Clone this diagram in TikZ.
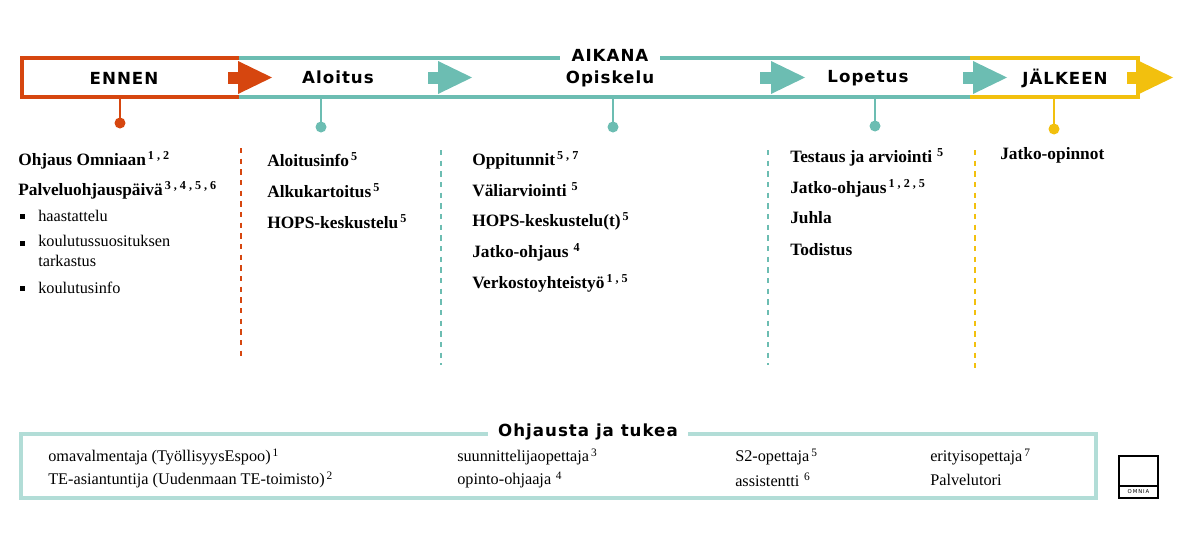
\documentclass[tikz,border=0pt]{standalone}
\usepackage{fontspec}
\setmainfont{Liberation Serif}
\newfontfamily\hdfont[LetterSpace=6]{DejaVu Sans}
\definecolor{orn}{HTML}{D6460F}
\definecolor{tea}{HTML}{6CBDB2}
\definecolor{yel}{HTML}{F2C00E}
\definecolor{ltea}{HTML}{B2DDD7}
\tikzset{
 hd/.style={font=\hdfont\bfseries\fontsize{12.5}{14}\selectfont},
 bt/.style={font=\fontsize{13}{15}\selectfont\bfseries, anchor=west, inner sep=0},
 nt/.style={font=\fontsize{12.2}{14}\selectfont, anchor=west, inner sep=0, align=left},
 dsh/.style={dashed, line width=1.2pt, dash pattern=on 4pt off 4pt},
}
\newcommand{\sps}[1]{\textsuperscript{\,#1}}
\newcommand{\arr}[3]{%
 \fill[#3] (#1,72) rectangle (#1+12,84);
 \fill[#3] (#2,61) -- (#2+34,77.5) -- (#2,94) -- cycle;}
\begin{document}
\begin{tikzpicture}[x=0.75pt,y=-0.75pt]
\useasboundingbox (0,0) rectangle (1183,550);
\draw[tea, line width=3pt] (239,58) -- (560,58) (660,58) -- (970,58);
\draw[tea, line width=3pt] (239,97) -- (970,97);
\draw[yel, line width=3pt] (970,58) -- (1138,58) -- (1138,72) (1138,84) -- (1138,97) -- (970,97);
\draw[orn, line width=3.5pt] (239,58) -- (22,58) -- (22,97) -- (239,97);
\arr{228}{238}{orn}
\arr{428}{438}{tea}
\arr{760}{771}{tea}
\arr{963}{973}{tea}
\arr{1127}{1139}{yel}
\node[hd] (en) at (124,78) {ENNEN};
\node[hd] (al) at (338,77) {Aloitus};
\node[hd] (ai) at (610,55) {AIKANA};
\node[hd] (op) at (610,79) {Opiskelu};
\node[hd] (lo) at (868,78) {Lopetus};
\node[hd] (ja) at (1065,78) {JÄLKEEN};
\draw[orn, line width=2pt] (120,97) -- (120,122); \fill[orn] (120,123) circle (5.5);
\draw[tea, line width=2pt] (321,97) -- (321,126); \fill[tea] (321,127) circle (5.5);
\draw[tea, line width=2pt] (613,97) -- (613,126); \fill[tea] (613,127) circle (5.5);
\draw[tea, line width=2pt] (875,97) -- (875,125); \fill[tea] (875,126) circle (5.5);
\draw[yel, line width=2pt] (1054,97) -- (1054,128); \fill[yel] (1054,129) circle (5.5);
\draw[orn, dsh] (241,148) -- (241,360);
\draw[tea, dsh] (441,150) -- (441,365);
\draw[tea, dsh] (768,150) -- (768,365);
\draw[yel, dsh] (975,150) -- (975,368);
\node[bt] (c1a) at (18,160) {Ohjaus Omniaan\sps{1 , 2}};
\node[bt] (c1b) at (18,190) {Palveluohjauspäivä\sps{3 , 4 , 5 , 6}};
\foreach \y in {216,243,288} \fill (22,\y) ++(-2.5,-2.5) rectangle ++(5,5);
\node[nt] (b1) at (38,216) {haastattelu};
\node[nt, anchor=north west] (b2) at (38,235) {koulutussuosituksen\\[1pt]tarkastus};
\node[nt] (b3) at (38,288) {koulutusinfo};
\node[bt] (c2a) at (267,160) {Aloitusinfo\sps{5}};
\node[bt] (c2b) at (267,191) {Alkukartoitus\sps{5}};
\node[bt] (c2c) at (267,222) {HOPS-keskustelu\sps{5}};
\node[bt] (c3a) at (472,160) {Oppitunnit\sps{5 , 7}};
\node[bt] (c3b) at (472,190) {Väliarviointi\sps{ 5}};
\node[bt] (c3c) at (472,221) {HOPS-keskustelu(t)\sps{5}};
\node[bt] (c3d) at (472,252) {Jatko-ohjaus\sps{ 4}};
\node[bt] (c3e) at (472,283) {Verkostoyhteistyö\sps{1 , 5}};
\node[bt] (c4a) at (790,157) {Testaus ja arviointi\sps{ 5}};
\node[bt] (c4b) at (790,188) {Jatko-ohjaus\sps{1 , 2 , 5}};
\node[bt] (c4c) at (790,218) {Juhla};
\node[bt] (c4d) at (790,250) {Todistus};
\node[bt] (c5a) at (1000,155) {Jatko-opinnot};
\draw[ltea, line width=3pt] (21,434) rectangle (1096,498);
\node[hd, fill=white, inner xsep=8pt] (tt) at (588,432) {Ohjausta ja tukea};
\node[nt] (d1) at (48,457) {omavalmentaja (TyöllisyysEspoo)\sps{1}};
\node[nt] (d2) at (48,480) {TE-asiantuntija (Uudenmaan TE-toimisto)\sps{2}};
\node[nt] (d3) at (457,457) {suunnittelijaopettaja\sps{3}};
\node[nt] (d4) at (457,480) {opinto-ohjaaja\sps{ 4}};
\node[nt] (d5) at (735,457) {S2-opettaja\sps{5}};
\node[nt] (d6) at (735,480) {assistentti\sps{ 6}};
\node[nt] (d7) at (930,457) {erityisopettaja\sps{7}};
\node[nt] (d8) at (930,480) {Palvelutori};
\draw[line width=1pt] (1119,456) rectangle (1158,498);
\draw[line width=1pt] (1119,486) -- (1158,486);
\node[font=\hdfont\fontsize{4}{5}\selectfont, inner sep=0] (lg) at (1138.5,492) {O\,M\,N\,I\,A};
\end{tikzpicture}
\end{document}
